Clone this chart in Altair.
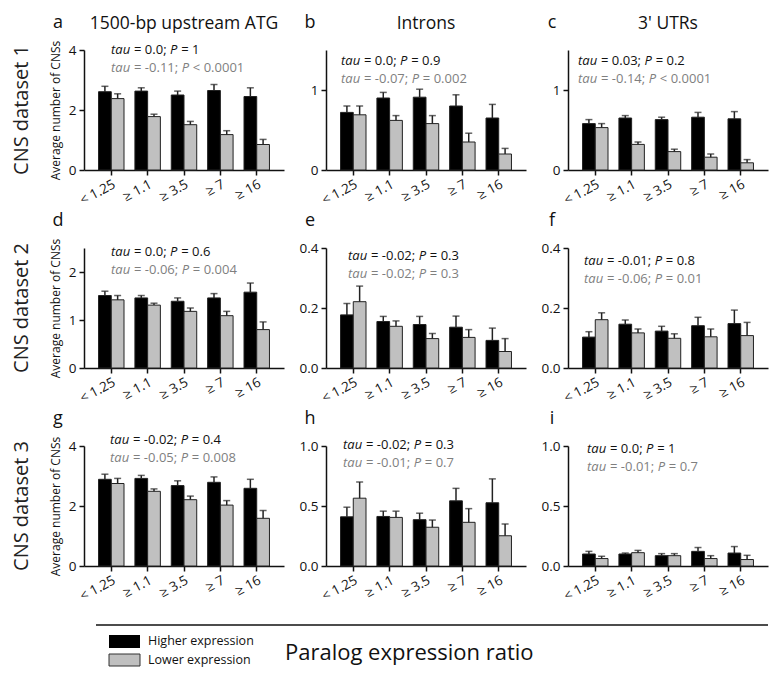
import altair as alt
import pandas as pd

FONT = "Open Sans"

categories = ["< 1.25", "≥ 1.1", "≥ 3.5", "≥ 7", "≥ 16"]
series = ["Higher expression", "Lower expression"]
col_titles = ["1500-bp upstream ATG", "Introns", "3' UTRs"]
row_titles = ["CNS dataset 1", "CNS dataset 2", "CNS dataset 3"]
letters = ["a", "b", "c", "d", "e", "f", "g", "h", "i"]

# ---- bar means and error (SEM) values ----
a_high = [2.61, 2.63, 2.50, 2.65, 2.45]
a_high_err = [0.18, 0.11, 0.13, 0.20, 0.29]
a_low = [2.38, 1.78, 1.51, 1.18, 0.85]
a_low_err = [0.16, 0.08, 0.11, 0.13, 0.17]

b_high = [0.72, 0.90, 0.91, 0.80, 0.65]
b_high_err = [0.08, 0.07, 0.10, 0.14, 0.17]
b_low = [0.69, 0.62, 0.58, 0.35, 0.20]
b_low_err = [0.11, 0.06, 0.10, 0.11, 0.07]

c_high = [0.58, 0.65, 0.63, 0.66, 0.64]
c_high_err = [0.05, 0.03, 0.03, 0.06, 0.09]
c_low = [0.53, 0.32, 0.23, 0.16, 0.09]
c_low_err = [0.05, 0.03, 0.03, 0.04, 0.04]

d_high = [1.51, 1.46, 1.39, 1.46, 1.58]
d_high_err = [0.09, 0.05, 0.07, 0.09, 0.19]
d_low = [1.42, 1.31, 1.18, 1.09, 0.80]
d_low_err = [0.09, 0.04, 0.07, 0.09, 0.16]

e_high = [0.177, 0.155, 0.145, 0.136, 0.092]
e_high_err = [0.038, 0.017, 0.027, 0.037, 0.041]
e_low = [0.221, 0.139, 0.098, 0.102, 0.055]
e_low_err = [0.052, 0.018, 0.017, 0.026, 0.043]

f_high = [0.103, 0.146, 0.123, 0.141, 0.148]
f_high_err = [0.018, 0.014, 0.016, 0.028, 0.045]
f_low = [0.161, 0.117, 0.099, 0.104, 0.108]
f_low_err = [0.023, 0.013, 0.015, 0.026, 0.044]

g_high = [2.89, 2.92, 2.68, 2.79, 2.59]
g_high_err = [0.17, 0.10, 0.16, 0.18, 0.30]
g_low = [2.75, 2.49, 2.21, 2.03, 1.59]
g_low_err = [0.17, 0.08, 0.12, 0.15, 0.26]

h_high = [0.41, 0.413, 0.386, 0.543, 0.527]
h_high_err = [0.08, 0.044, 0.054, 0.104, 0.199]
h_low = [0.565, 0.405, 0.323, 0.364, 0.252]
h_low_err = [0.135, 0.052, 0.06, 0.114, 0.098]

i_high = [0.100, 0.100, 0.086, 0.122, 0.108]
i_high_err = [0.022, 0.008, 0.017, 0.032, 0.054]
i_low = [0.062, 0.111, 0.086, 0.062, 0.054]
i_low_err = [0.019, 0.019, 0.017, 0.024, 0.035]

# ---- Kendall tau statistics printed in each panel ----
tau_high = ["0.0", "0.0", "0.03", "0.0", "-0.02", "-0.01", "-0.02", "-0.02", "0.0"]
p_high = ["= 1", "= 0.9", "= 0.2", "= 0.6", "= 0.3", "= 0.8", "= 0.4", "= 0.3", "= 1"]
tau_low = ["-0.11", "-0.07", "-0.14", "-0.06", "-0.02", "-0.06", "-0.05", "-0.01", "-0.01"]
p_low = ["< 0.0001", "= 0.002", "< 0.0001", "= 0.004", "= 0.3", "= 0.01", "= 0.008", "= 0.7", "= 0.7"]

# ---- axis setup per panel ----
y_domains = [[0, 4], [0, 1.5], [0, 1.5], [0, 2.5], [0, 0.4], [0, 0.4], [0, 4], [0, 1.0], [0, 1.0]]
y_ticks = [[0, 1, 2, 3, 4], [0, 1], [0, 1], [0, 1, 2], [0, 0.2, 0.4], [0, 0.2, 0.4],
           [0, 1, 2, 3, 4], [0, 0.5, 1.0], [0, 0.5, 1.0]]
y_formats = ["d", "d", "d", "d", ".1f", ".1f", "d", ".1f", ".1f"]

panel_data = [
    (a_high, a_high_err, a_low, a_low_err),
    (b_high, b_high_err, b_low, b_low_err),
    (c_high, c_high_err, c_low, c_low_err),
    (d_high, d_high_err, d_low, d_low_err),
    (e_high, e_high_err, e_low, e_low_err),
    (f_high, f_high_err, f_low, f_low_err),
    (g_high, g_high_err, g_low, g_low_err),
    (h_high, h_high_err, h_low, h_low_err),
    (i_high, i_high_err, i_low, i_low_err),
]

# ---- styling / layout constants ----
W, H = 200, 120
INK = "#111111"
GRAY_TXT = "#7f7f7f"
ANN_FS = 13
ann_dx = [27, 15, 10, 27, 22, 16, 26, 17, 19]
ann_dy = [0, 11, 11, 4, 8, 13, -6, -1, 3]

# approximate glyph advance widths (em) for placing italic / roman runs
CW = {"t": 0.344, "a": 0.556, "u": 0.613, "P": 0.603, " ": 0.26, "=": 0.572,
      "<": 0.572, ".": 0.266, ";": 0.266, "-": 0.322}


def tw(s, size):
    return sum(CW.get(ch, 0.572) for ch in s) * size


def one_text(s, x, y, size, color, italic=False, align="left", angle=0, baseline="middle"):
    kw = dict(align=align, baseline=baseline, fontSize=size, font=FONT, color=color)
    if italic:
        kw["fontStyle"] = "italic"
    if angle:
        kw["angle"] = angle
    return (alt.Chart(pd.DataFrame({"t": [s]}))
            .mark_text(**kw)
            .encode(x=alt.value(x), y=alt.value(y), text="t:N"))


def stat_line(tau, p, x0, y, color):
    pieces = [("tau", True), ("= " + tau + ";", False), ("P", True), (p, False)]
    out = []
    x = x0
    for s, it in pieces:
        out.append(one_text(s, x, y, ANN_FS, color, italic=it))
        x += tw(s + " ", ANN_FS)
    return out


def panel(k):
    row, col = divmod(k, 3)
    hi, hi_e, lo, lo_e = panel_data[k]
    means = hi + lo
    errs = hi_e + lo_e
    df = pd.DataFrame({
        "ratio": categories * 2,
        "expr": [series[0]] * 5 + [series[1]] * 5,
        "mean": means,
        "upper": [m + e for m, e in zip(means, errs)],
    })
    x = alt.X("ratio:N", sort=categories,
              scale=alt.Scale(paddingInner=0.3, paddingOuter=0.4),
              axis=alt.Axis(title=None, labelAngle=-28, labelAlign="right", labelBaseline="top",
                            labelFontSize=13.5, labelFont=FONT, labelColor=INK, labelPadding=2,
                            labelOverlap=False,
                            tickSize=5, tickWidth=1.5, tickColor=INK,
                            domainColor=INK, domainWidth=1.5))
    xo = alt.XOffset("expr:N", sort=series)
    yaxis = alt.Axis(values=y_ticks[k], format=y_formats[k], grid=False, labelOverlap=False,
                     title="Average number of CNSs" if col == 0 else "",
                     titleFontSize=12, titleFont=FONT, titleFontWeight="normal",
                     titleColor=INK, titlePadding=6,
                     labelFontSize=13.5, labelFont=FONT, labelColor=INK, labelPadding=3,
                     tickSize=5, tickWidth=1.5, tickColor=INK,
                     domainColor=INK, domainWidth=1.5)
    y = alt.Y("mean:Q", scale=alt.Scale(domain=y_domains[k], nice=False, zero=True), axis=yaxis)
    base = alt.Chart(df)
    bars = base.mark_bar(stroke="#222222", strokeWidth=1).encode(
        x=x, xOffset=xo, y=y,
        color=alt.Color("expr:N", scale=alt.Scale(domain=series, range=["#000000", "#c0c0c0"]),
                        legend=None))
    whisk = base.mark_rule(color="#222222", strokeWidth=1.5).encode(
        x=x, xOffset=xo, y="mean:Q", y2="upper:Q")
    cap = base.mark_tick(color="#222222", thickness=1.5, size=7).encode(
        x=x, xOffset=xo, y="upper:Q")

    layers = [bars, whisk, cap]
    ax0 = ann_dx[k]
    ay0 = ann_dy[k]
    layers += stat_line(tau_high[k], p_high[k], ax0, ay0, INK)
    layers += stat_line(tau_low[k], p_low[k], ax0, ay0 + 18, GRAY_TXT)
    # panel letter
    layers.append(one_text(letters[k], -26 if col == 0 else -16, -27, 18, INK, align="center"))
    if row == 0:
        layers.append(one_text(col_titles[col], W / 2, -26, 17.5, INK, align="center"))
    if col == 0:
        layers.append(one_text(row_titles[row], -62, H / 2, 20, "#222222", align="center", angle=270))
    if k == 6:
        # footer: separator line, legend and shared x title
        one = pd.DataFrame({"v": [0]})
        layers.append(alt.Chart(one).mark_rule(color=INK, strokeWidth=1.5).encode(
            x=alt.value(12), x2=alt.value(684), y=alt.value(179)))
        layers.append(alt.Chart(one).mark_rect(color="#000000").encode(
            x=alt.value(25), x2=alt.value(56), y=alt.value(189), y2=alt.value(202)))
        layers.append(alt.Chart(one).mark_rect(color="#c0c0c0", stroke="#333333", strokeWidth=1).encode(
            x=alt.value(25), x2=alt.value(56), y=alt.value(208), y2=alt.value(220)))
        layers.append(one_text(series[0], 64, 195, 12.5, INK))
        layers.append(one_text(series[1], 64, 214, 12.5, INK))
        layers.append(one_text("Paralog expression ratio", 201, 207, 22, INK))
    return alt.layer(*layers).properties(width=W, height=H)


chart = alt.concat(*[panel(k) for k in range(9)], columns=3,
                   spacing={"row": 78, "column": 42}, bounds="flush",
                   padding={"left": 3, "top": 6, "right": 0, "bottom": 0}
                   ).configure_view(strokeWidth=0)

chart.save("out.html", embed_options={"renderer": "svg", "actions": False})
